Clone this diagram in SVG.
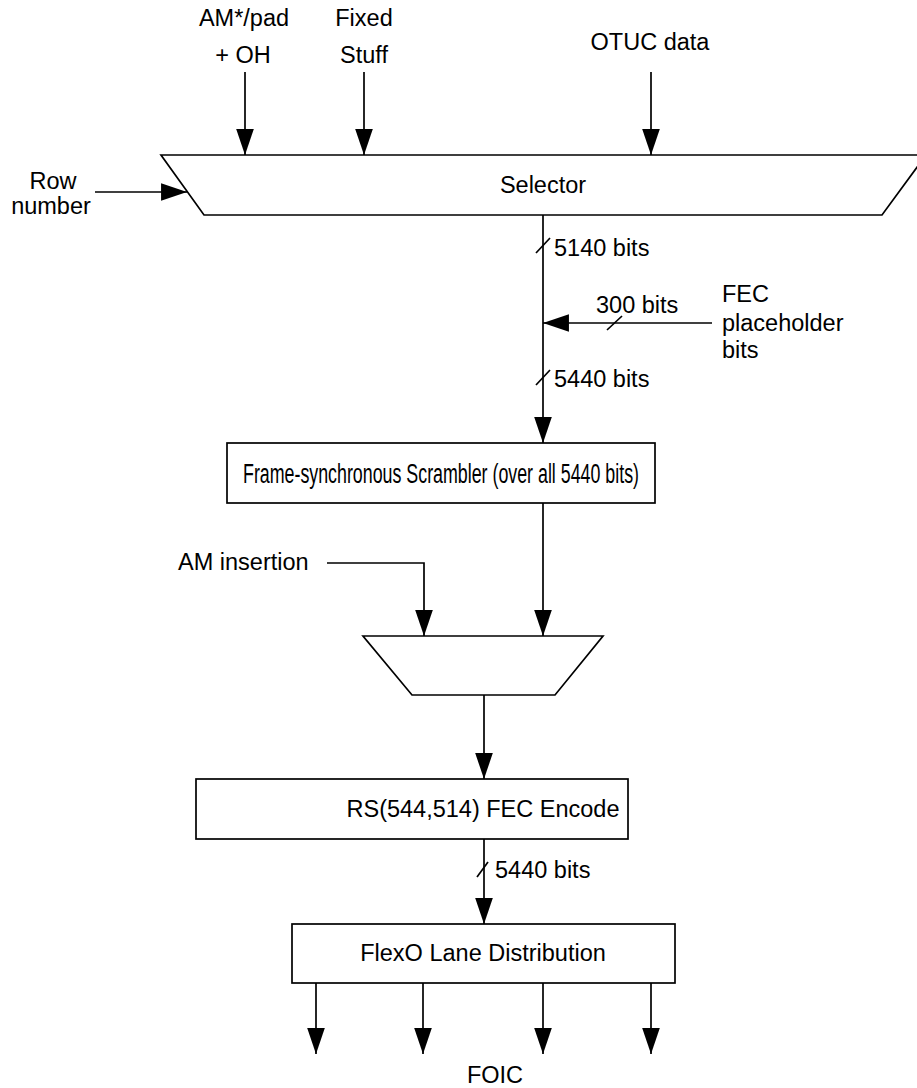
<svg xmlns="http://www.w3.org/2000/svg" width="917" height="1088" viewBox="0 0 917 1088">
  <defs>
    <marker id="arrow" markerUnits="userSpaceOnUse" markerWidth="28" markerHeight="20" viewBox="-26 -9 27 18" refX="0" refY="0" orient="auto">
      <path d="M0,0 L-25,-8.5 L-25,8.5 Z" fill="#000"/>
    </marker>
    <style>
      .shape { fill: #fff; stroke: #000; stroke-width: 1.7; }
      .wire { fill: none; stroke: #000; stroke-width: 1.7; }
      .arr { marker-end: url(#arrow); }
      .txt { font-family: "Liberation Sans", Arial, sans-serif; font-size: 23.5px; fill: #000; }
      .mid { text-anchor: middle; }
    </style>
  </defs>
  <rect width="917" height="1088" fill="#fff"/>

  <!-- Selector -->
  <g id="selector">
    <path class="shape" d="M161,155 L926,155 L882,215 L204,215 Z"/>
    <text class="txt mid" x="543" y="193">Selector</text>
  </g>

  <!-- Selector input labels -->
  <g id="in-am-oh">
    <text class="txt mid" x="244" y="26">AM*/pad</text>
    <text class="txt mid" x="243" y="63">+ OH</text>
  </g>
  <g id="in-fixed-stuff">
    <text class="txt mid" x="364" y="26">Fixed</text>
    <text class="txt mid" x="364" y="63">Stuff</text>
  </g>
  <g id="in-otuc">
    <text class="txt mid" x="650" y="50">OTUC data</text>
  </g>
  <g id="in-row">
    <text class="txt mid" x="53" y="189">Row</text>
    <text class="txt mid" x="51" y="214">number</text>
  </g>
  <g id="in-fec-placeholder">
    <text class="txt" x="722" y="302">FEC</text>
    <text class="txt" x="722" y="331">placeholder</text>
    <text class="txt" x="722" y="358">bits</text>
  </g>

  <!-- Scrambler -->
  <g id="scrambler">
    <rect class="shape" x="227" y="443" width="428" height="60"/>
    <text class="txt mid" x="441" y="483" style="font-size:27px" textLength="396" lengthAdjust="spacingAndGlyphs">Frame-synchronous Scrambler (over all 5440 bits)</text>
  </g>

  <!-- AM insertion mux -->
  <g id="am-mux">
    <path class="shape" d="M363,636 L603,636 L555,695 L412,695 Z"/>
  </g>
  <g id="am-insertion">
    <text class="txt" x="178" y="570">AM insertion</text>
  </g>

  <!-- FEC encoder -->
  <g id="fec-encode">
    <rect class="shape" x="196" y="779" width="432" height="60"/>
    <text class="txt mid" x="483" y="817">RS(544,514) FEC Encode</text>
  </g>

  <!-- Lane distribution -->
  <g id="lane-dist">
    <rect class="shape" x="292" y="924" width="383" height="59"/>
    <text class="txt mid" x="483" y="961">FlexO Lane Distribution</text>
  </g>
  <g id="foic">
    <text class="txt mid" x="495" y="1083">FOIC</text>
  </g>

  <!-- Connectors -->
  <g id="connectors">
    <line class="wire arr" x1="245" y1="72" x2="245" y2="155"/>
    <line class="wire arr" x1="364" y1="72" x2="364" y2="155"/>
    <line class="wire arr" x1="651" y1="72" x2="651" y2="155"/>
    <line class="wire arr" x1="95" y1="192" x2="187" y2="192"/>

    <line class="wire arr" x1="543" y1="215" x2="543" y2="443"/>
    <line class="wire" x1="536" y1="253" x2="550" y2="238"/>
    <text class="txt" x="554" y="256">5140 bits</text>

    <line class="wire arr" x1="712" y1="323" x2="543" y2="323"/>
    <line class="wire" x1="607" y1="330" x2="622" y2="316"/>
    <text class="txt" x="596" y="313">300 bits</text>

    <line class="wire" x1="536" y1="385" x2="550" y2="370"/>
    <text class="txt" x="554" y="387">5440 bits</text>

    <line class="wire arr" x1="543" y1="503" x2="543" y2="636"/>
    <polyline class="wire arr" points="327,563 424,563 424,636"/>

    <line class="wire arr" x1="484" y1="695" x2="484" y2="779"/>

    <line class="wire arr" x1="484" y1="839" x2="484" y2="924"/>
    <line class="wire" x1="477" y1="877" x2="488" y2="862"/>
    <text class="txt" x="495" y="878">5440 bits</text>

    <line class="wire arr" x1="316" y1="983" x2="316" y2="1054"/>
    <line class="wire arr" x1="423" y1="983" x2="423" y2="1054"/>
    <line class="wire arr" x1="543" y1="983" x2="543" y2="1054"/>
    <line class="wire arr" x1="651" y1="983" x2="651" y2="1054"/>
  </g>
</svg>
